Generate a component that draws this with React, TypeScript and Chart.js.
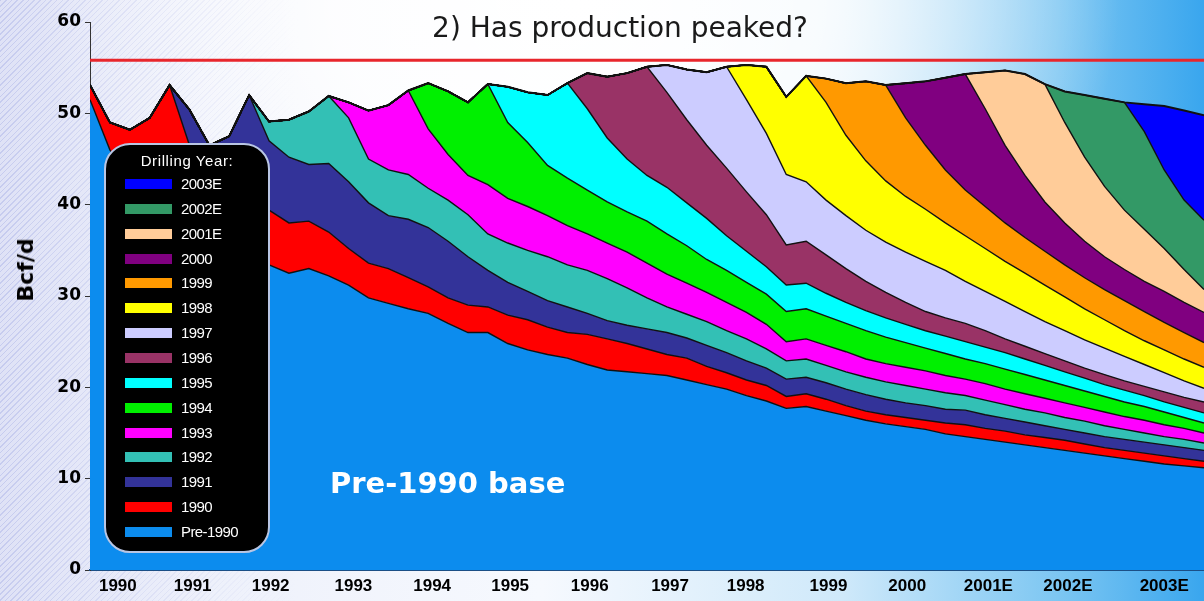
import React, { useEffect, useRef } from 'react';
import { Chart, registerables } from 'chart.js';

Chart.register(...registerables);

// ---- time grid (quarterly, 1990.0 .. 2004.0) ----
const START_YEAR = 1990;
const QUARTERS = Array.from({ length: 57 }, (_, i) => START_YEAR + i / 4);

// ---- layers (bottom to top) ----
const layerNames = ['Pre-1990', '1990', '1991', '1992', '1993', '1994', '1995', '1996', '1997', '1998', '1999', '2000', '2001E', '2002E', '2003E'];
const layerColors = ['#0c8cee', '#ff0000', '#333399', '#33c0b5', '#ff00ff', '#00f000', '#00ffff', '#993366', '#ccccff', '#ffff00', '#ff9900', '#800080', '#ffcc99', '#339966', '#0000ff'];

// total production (top of the stack), quarterly 1990.0 .. 2004.0
const totalProduction = [
  53.1, 49.0, 48.2, 49.5,
  53.1, 50.4, 46.5, 47.5,
  52.0, 49.1, 49.3, 50.2,
  51.9, 51.2, 50.3, 50.9,
  52.5, 53.3, 52.4, 51.2,
  53.2, 52.9, 52.3, 52.0,
  53.3, 54.4, 54.0, 54.4,
  55.1, 55.3, 54.8, 54.5,
  55.1, 55.3, 55.1, 51.8,
  54.1, 53.8, 53.3, 53.5,
  53.1, 53.3, 53.5, 53.9,
  54.3, 54.5, 54.7, 54.3,
  53.2, 52.4, 52.0, 51.6,
  51.2, 51.0, 50.8, 50.3,
  49.8,
];

// top of the Pre-1990 base, quarterly 1990.0 .. 2004.0
const pre1990Top = [
  51.5, 46.0, 43.0, 41.0,
  39.5, 38.0, 36.8, 35.5,
  34.5, 33.4, 32.5, 33.0,
  32.2, 31.2, 29.8, 29.2,
  28.6, 28.1, 27.0, 26.0,
  26.0, 24.8, 24.1, 23.6,
  23.2, 22.5, 21.9, 21.7,
  21.5, 21.3, 20.8, 20.3,
  19.8, 19.1, 18.5, 17.7,
  17.9, 17.4, 16.9, 16.4,
  16.0, 15.7, 15.4, 14.9,
  14.6, 14.3, 14.0, 13.7,
  13.4, 13.1, 12.8, 12.5,
  12.2, 11.9, 11.6, 11.4,
  11.2,
];

// cumulative top of each drilling year's layer once the next year's wells come on
// (each list starts one quarter after the next drilling year begins)
const top1990 = [
  46.5, 44.0, 42.0, 40.5,
  39.4, 38.0, 38.2, 37.0,
  35.2, 33.6, 33.0, 32.0,
  31.0, 29.8, 29.0, 28.8,
  27.9, 27.4, 26.6, 26.0,
  25.8, 25.3, 24.8, 24.2,
  23.6, 23.2, 22.3, 21.6,
  20.8, 20.2, 19.0, 19.3,
  18.7, 18.0, 17.4, 17.0,
  16.7, 16.4, 16.1, 15.9,
  15.5, 15.2, 14.8, 14.5,
  14.2, 13.8, 13.4, 13.1,
  12.8, 12.5, 12.2, 11.9,
];
const top1991 = [
  47.0, 45.2, 44.4, 44.5,
  42.5, 40.2, 38.8, 38.4,
  37.5, 36.0, 34.3, 32.8,
  31.5, 30.5, 29.5, 28.8,
  28.1, 27.3, 26.8, 26.4,
  26.0, 25.4, 24.6, 23.8,
  22.9, 22.1, 20.9, 21.1,
  20.5, 19.8, 19.2, 18.7,
  18.3, 18.0, 17.6, 17.5,
  17.0, 16.6, 16.2, 15.8,
  15.4, 15.0, 14.6, 14.3,
  14.0, 13.7, 13.4, 13.1,
];
const top1992 = [
  49.5, 45.0, 43.8, 43.3,
  41.8, 40.5, 38.9, 36.8,
  35.8, 35.0, 34.3, 33.4,
  32.8, 31.9, 30.9, 29.8,
  28.8, 28.0, 27.2, 26.2,
  25.3, 24.2, 22.9, 23.1,
  22.4, 21.7, 21.1, 20.6,
  20.2, 19.8, 19.4, 19.1,
  18.6, 18.1, 17.6, 17.2,
  16.7, 16.3, 15.8, 15.4,
  15.0, 14.6, 14.3, 13.9,
];
const top1993 = [
  48.3, 45.5, 43.2, 42.2,
  40.7, 39.8, 38.8, 37.7,
  36.8, 35.8, 34.8, 33.6,
  32.4, 31.4, 30.4, 29.3,
  28.2, 26.9, 25.0, 25.3,
  24.6, 23.9, 23.1, 22.6,
  22.2, 21.8, 21.3, 20.9,
  20.4, 19.8, 19.3, 18.8,
  18.3, 17.8, 17.3, 16.8,
  16.4, 15.9, 15.5, 15.0,
];
const top1994 = [
  49.0, 46.8, 44.3, 42.9,
  41.6, 40.3, 39.2, 38.2,
  36.8, 35.5, 34.0, 32.8,
  31.5, 30.2, 28.3, 28.6,
  27.8, 27.0, 26.2, 25.5,
  24.9, 24.3, 23.7, 23.1,
  22.6, 22.0, 21.4, 20.8,
  20.2, 19.6, 19.0, 18.4,
  17.9, 17.3, 16.7, 16.1,
];
const top1995 = [
  50.5, 47.3, 45.0, 43.2,
  41.9, 40.2, 38.5, 36.6,
  34.9, 33.2, 31.2, 31.4,
  30.3, 29.3, 28.4, 27.6,
  26.9, 26.2, 25.6, 25.0,
  24.4, 23.8, 23.1, 22.4,
  21.7, 21.0, 20.3, 19.7,
  19.1, 18.4, 17.8, 17.2,
];
const top1996 = [
  52.3, 49.3, 46.5, 44.0,
  41.4, 38.9, 35.6, 36.0,
  34.5, 33.0, 31.6, 30.4,
  29.3, 28.3, 27.6, 27.0,
  26.2, 25.3, 24.5, 23.7,
  22.9, 22.1, 21.4, 20.7,
  20.1, 19.5, 18.9, 18.4,
];
const top1997 = [
  51.5, 47.8, 43.3, 42.5,
  40.5, 38.8, 37.2, 35.9,
  34.8, 33.8, 32.8, 31.6,
  30.5, 29.4, 28.3, 27.2,
  26.2, 25.2, 24.3, 23.4,
  22.5, 21.6, 20.7, 19.9,
];
const top1998 = [
  51.2, 47.6, 44.8, 42.6,
  40.9, 39.5, 38.0, 36.6,
  35.2, 33.8, 32.5, 31.2,
  29.9, 28.6, 27.4, 26.2,
  25.1, 24.1, 23.1, 22.2,
];
const top1999 = [
  49.5, 46.5, 43.8, 41.6,
  39.8, 38.0, 36.4, 34.9,
  33.4, 32.0, 30.7, 29.5,
  28.3, 27.1, 26.0, 24.9,
];
const top2000 = [
  50.5, 46.5, 43.2, 40.3,
  38.0, 36.0, 34.3, 32.9,
  31.6, 30.5, 29.3, 28.2,
];
const top2001E = [
  49.0, 45.2, 42.0, 39.4,
  37.3, 35.2, 32.9, 30.7,
];
const top2002E = [48.0, 43.8, 40.5, 38.3];
const top2003E: number[] = [];

const layerDeclines = [top1990, top1991, top1992, top1993, top1994, top1995, top1996, top1997, top1998, top1999, top2000, top2001E, top2002E, top2003E];

const peakLevel = 55.8;

const xTickPositions = [1990.35, 1991.29, 1992.27, 1993.31, 1994.3, 1995.28, 1996.28, 1997.29, 1998.24, 1999.28, 2000.27, 2001.29, 2002.29, 2003.5];
const xTickLabels = ['1990', '1991', '1992', '1993', '1994', '1995', '1996', '1997', '1998', '1999', '2000', '2001E', '2002E', '2003E'];

export default function App() {
  const canvasRef = useRef<HTMLCanvasElement>(null);

  useEffect(() => {
    document.body.style.margin = '0';
    const canvas = canvasRef.current;
    if (!canvas) return;

    const boundaries: number[][] = [pre1990Top];
    layerDeclines.forEach((decl, j) => {
      const k = j + 1;
      const startIdx = 4 * k + 1;
      boundaries.push(totalProduction.map((tv, i) => (i < startIdx || decl.length === 0 ? tv : decl[i - startIdx])));
    });

    const datasets: any[] = boundaries.map((vals, k) => ({
      label: layerNames[k],
      data: vals.map((v, i) => ({ x: QUARTERS[i], y: v })),
      backgroundColor: layerColors[k],
      borderColor: '#111111',
      borderWidth: k === boundaries.length - 1 ? 2 : 1.4,
      fill: k === 0 ? 'origin' : '-1',
      pointRadius: 0,
      tension: 0,
    }));
    datasets.push({
      label: 'peak',
      data: [{ x: 1990, y: peakLevel }, { x: 2004, y: peakLevel }],
      borderColor: '#e8262c',
      borderWidth: 3,
      fill: false,
      pointRadius: 0,
      order: -1,
    });

    const chart = new Chart(canvas, {
      type: 'line',
      data: { datasets },
      options: {
        animation: false,
        responsive: false,
        maintainAspectRatio: false,
        layout: { padding: { top: 22, right: 0, left: 0, bottom: 0 } },
        plugins: {
          legend: { display: false },
          tooltip: { enabled: false },
          filler: { drawTime: 'beforeDatasetsDraw' },
        } as any,
        scales: {
          x: {
            type: 'linear',
            min: 1990,
            max: 2004,
            grid: { display: false, drawTicks: false },
            border: { display: true, color: '#1b4f86', width: 2 },
            afterBuildTicks: (s: any) => {
              s.ticks = xTickPositions.map((v) => ({ value: v }));
            },
            afterFit: (s: any) => {
              s.height = 31;
            },
            ticks: {
              autoSkip: false,
              maxRotation: 0,
              minRotation: 0,
              padding: 6,
              color: '#000',
              font: { family: 'Liberation Sans', weight: 'bold', size: 17 },
              callback: (_v: any, i: number) => xTickLabels[i],
            },
          },
          y: {
            min: 0,
            max: 60,
            ticks: {
              stepSize: 10,
              padding: 4,
              color: '#000',
              font: { family: 'DejaVu Sans', weight: 'bold', size: 17 },
            },
            grid: { drawOnChartArea: false, tickLength: 5, color: '#333' },
            border: { display: true, color: '#333', width: 1 },
            afterFit: (s: any) => {
              s.width = 90;
            },
          },
        } as any,
      },
    });
    return () => chart.destroy();
  }, []);

  const legendRows = layerNames.map((n, i) => ({ name: n, color: layerColors[i] })).reverse();

  return (
    <div
      style={{
        position: 'fixed',
        left: 0,
        top: 0,
        width: 1204,
        height: 601,
        overflow: 'hidden',
        background:
          'radial-gradient(ellipse 45% 70% at 48% 0%, rgba(255,255,255,1) 0%, rgba(255,255,255,0.85) 45%, rgba(255,255,255,0) 100%), linear-gradient(90deg, #dfe2f6 0%, #eef1fb 18%, #f6f9fe 45%, #cfe9fa 70%, #7cc6f2 88%, #39a6ee 100%)',
      }}
    >
      <div
        style={{
          position: 'absolute',
          left: 0,
          top: 0,
          width: 300,
          height: 601,
          background: 'repeating-linear-gradient(135deg, rgba(150,160,225,0.35) 0px, rgba(150,160,225,0.35) 1px, rgba(255,255,255,0) 1px, rgba(255,255,255,0) 4px)',
          WebkitMaskImage: 'linear-gradient(90deg, #000 0%, rgba(0,0,0,0.6) 30%, rgba(0,0,0,0) 100%)',
          maskImage: 'linear-gradient(90deg, #000 0%, rgba(0,0,0,0.6) 30%, rgba(0,0,0,0) 100%)',
        }}
      />
      <canvas ref={canvasRef} width={1204} height={601} style={{ position: 'absolute', left: 0, top: 0, width: 1204, height: 601 }} />
      <div
        style={{
          position: 'absolute',
          left: 370,
          top: 10,
          width: 500,
          textAlign: 'center',
          fontFamily: 'DejaVu Sans',
          fontSize: 28,
          color: '#1a1a1a',
          lineHeight: '36px',
          whiteSpace: 'nowrap',
        }}
      >
        2) Has production peaked?
      </div>
      <div
        style={{
          position: 'absolute',
          left: 26,
          top: 270,
          transform: 'translate(-50%, -50%) rotate(-90deg)',
          fontFamily: 'DejaVu Sans',
          fontWeight: 'bold',
          fontSize: 22,
          color: '#000',
          lineHeight: '26px',
          whiteSpace: 'nowrap',
        }}
      >
        Bcf/d
      </div>
      <div
        style={{
          position: 'absolute',
          left: 330,
          top: 465,
          fontFamily: 'DejaVu Sans',
          fontWeight: 'bold',
          fontSize: 29,
          color: '#ffffff',
          lineHeight: '36px',
          whiteSpace: 'nowrap',
        }}
      >
        Pre-1990 base
      </div>
      <div
        style={{
          position: 'absolute',
          left: 104,
          top: 143,
          width: 162,
          height: 406,
          background: '#000',
          border: '2px solid #b9c6e4',
          borderRadius: 26,
          boxSizing: 'content-box',
        }}
      >
        <div
          style={{
            position: 'absolute',
            left: 0,
            top: 6,
            width: 162,
            textAlign: 'center',
            color: '#fff',
            fontFamily: 'Liberation Sans',
            fontSize: 15,
            letterSpacing: 0.6,
            lineHeight: '20px',
          }}
        >
          Drilling Year:
        </div>
        {legendRows.map((r, i) => (
          <div key={r.name} style={{ position: 'absolute', left: 0, top: 29 + i * 24.86, height: 20, width: 162 }}>
            <div style={{ position: 'absolute', left: 19, top: 5, width: 47, height: 10, background: r.color }} />
            <div
              style={{
                position: 'absolute',
                left: 75,
                top: 0,
                color: '#fff',
                fontFamily: 'Liberation Sans',
                fontSize: 15,
                letterSpacing: -0.6,
                lineHeight: '20px',
                whiteSpace: 'nowrap',
              }}
            >
              {r.name}
            </div>
          </div>
        ))}
      </div>
    </div>
  );
}
